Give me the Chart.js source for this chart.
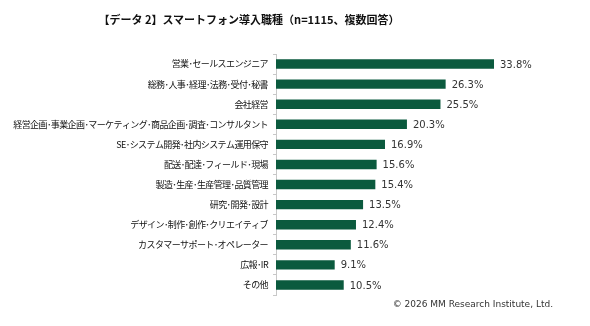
<!doctype html>
<html>
  <head>
    <meta charset="utf-8">
    <script src="https://cdn.jsdelivr.net/npm/chart.js@4"></script>
    <style>
      body { margin: 0; background: #fff; }
      #wrap { position: relative; width: 590px; height: 326px; }
      #title {
        position: absolute; left: 0; top: 11px; width: 498px; text-align: center;
        font: bold 11px "Noto Sans CJK JP", sans-serif; color: #111;
      }
      #credit {
        position: absolute; right: 37px; top: 299px;
        font: 9px "DejaVu Sans", sans-serif; color: #333;
      }
    </style>
  </head>

  <body>
    <div id="wrap">
      <canvas id="canvas" width="590" height="326"></canvas>
      <div id="title">【データ 2】スマートフォン導入職種（n=1115、複数回答）</div>
      <div id="credit">© 2026 MM Research Institute, Ltd.</div>
    </div>
    <script>
      const labels = [
        '営業･セールスエンジニア',
        '総務･人事･経理･法務･受付･秘書',
        '会社経営',
        '経営企画･事業企画･マーケティング･商品企画･調査･コンサルタント',
        'SE･システム開発･社内システム運用保守',
        '配送･配達･フィールド･現場',
        '製造･生産･生産管理･品質管理',
        '研究･開発･設計',
        'デザイン･制作･創作･クリエイティブ',
        'カスタマーサポート･オペレーター',
        '広報･IR',
        'その他',
      ];
      const values = [33.8, 26.3, 25.5, 20.3, 16.9, 15.6, 15.4, 13.5, 12.4, 11.6, 9.1, 10.5];

      // tighter tick text, the original font is narrower than Noto
      const tightTicks = {
        id: 'tightTicks',
        beforeDraw(chart) { chart.ctx.letterSpacing = '-0.6px'; },
        beforeDatasetsDraw(chart) { chart.ctx.letterSpacing = '0px'; },
      };

      const valueLabels = {
        id: 'valueLabels',
        afterDatasetsDraw(chart) {
          const ctx = chart.ctx;
          ctx.save();
          ctx.letterSpacing = '0px';
          ctx.font = '10px "DejaVu Sans", sans-serif';
          ctx.fillStyle = '#333';
          ctx.textBaseline = 'middle';
          chart.getDatasetMeta(0).data.forEach((bar, i) => {
            ctx.fillText(values[i].toFixed(1) + '%', bar.x + 6, bar.y + 1);
          });
          ctx.restore();
        },
      };

      new Chart(document.getElementById('canvas').getContext('2d'), {
        type: 'bar',
        data: {
          labels: labels,
          datasets: [
            {
              data: values,
              backgroundColor: '#0b5a3e',
              barPercentage: 0.47,
              categoryPercentage: 1,
            },
          ],
        },
        options: {
          indexAxis: 'y',
          responsive: false,
          animation: false,
          layout: { padding: { left: 0, right: 56, top: 54, bottom: 31 } },
          plugins: { legend: { display: false }, tooltip: { enabled: false } },
          scales: {
            x: { display: false, min: 0, max: 40 },
            y: {
              afterFit(scale) { scale.width = 276; },
              border: { color: '#c8c8c8' },
              grid: { drawOnChartArea: false, tickLength: 3, color: '#c8c8c8' },
              ticks: {
                padding: 5,
                color: '#111',
                font: { family: '"Noto Sans CJK JP", sans-serif', size: 9 },
              },
            },
          },
        },
        plugins: [tightTicks, valueLabels],
      });
    </script>
  </body>
</html>
